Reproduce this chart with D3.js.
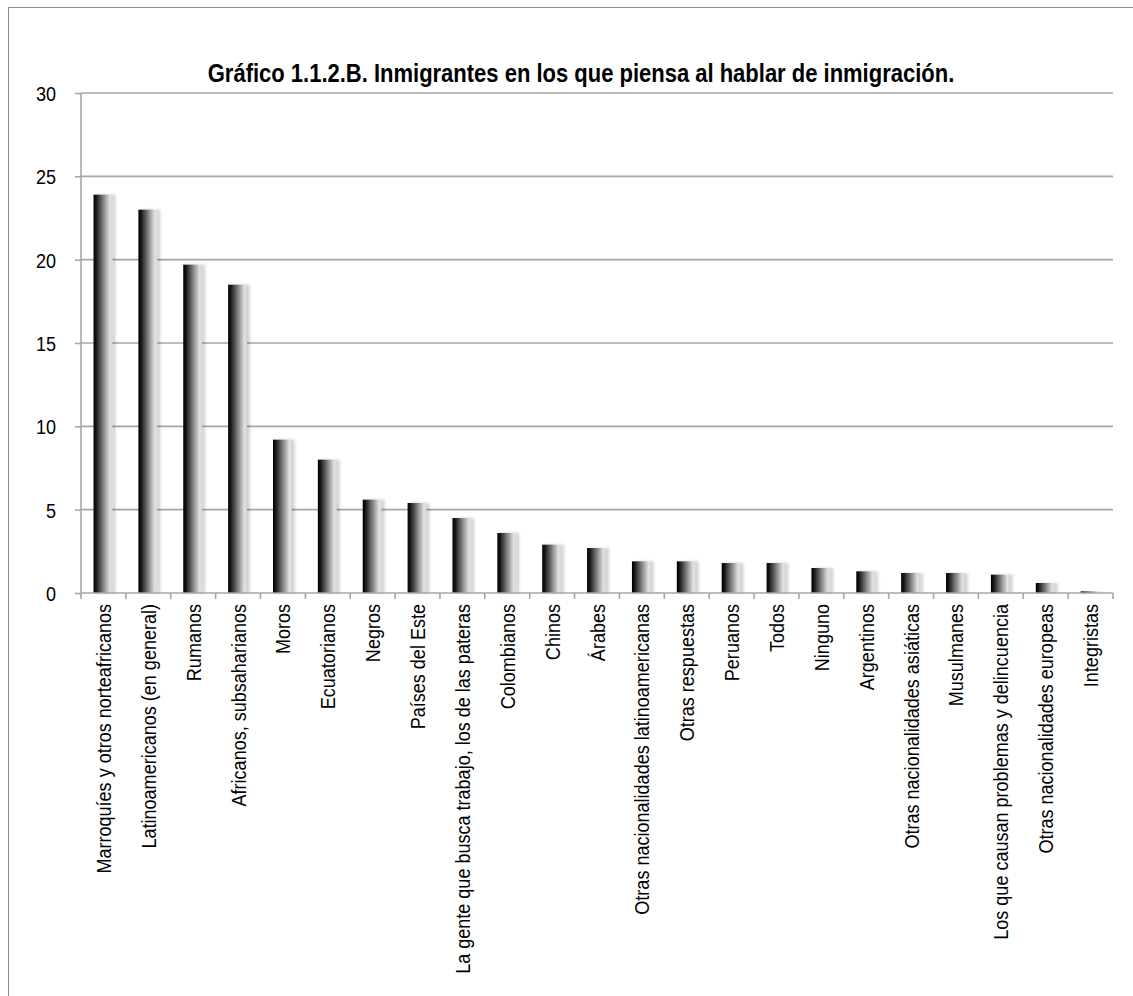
<!DOCTYPE html>
<html>
<head>
<meta charset="utf-8">
<script src="https://cdn.jsdelivr.net/npm/d3@7"></script>
<style>
  html, body { margin: 0; padding: 0; background: #fff; }
  svg text { font-family: "Liberation Sans", Arial, sans-serif; fill: #000; }
</style>
</head>
<body>
<svg id="chart" width="1133" height="996"></svg>
<script>
const categories = [
  "Marroquíes y otros norteafricanos",
  "Latinoamericanos (en general)",
  "Rumanos",
  "Africanos, subsaharianos",
  "Moros",
  "Ecuatorianos",
  "Negros",
  "Países del Este",
  "La gente que busca trabajo, los de las pateras",
  "Colombianos",
  "Chinos",
  "Árabes",
  "Otras nacionalidades latinoamericanas",
  "Otras respuestas",
  "Peruanos",
  "Todos",
  "Ninguno",
  "Argentinos",
  "Otras nacionalidades asiáticas",
  "Musulmanes",
  "Los que causan problemas y delincuencia",
  "Otras nacionalidades europeas",
  "Integristas"
];
const values = [23.9, 23.0, 19.7, 18.5, 9.2, 8.0, 5.6, 5.4, 4.5, 3.6, 2.9, 2.7, 1.9, 1.9, 1.8, 1.8, 1.5, 1.3, 1.2, 1.2, 1.1, 0.6, 0.1];
const yTicks = [0, 5, 10, 15, 20, 25, 30];
const title = "Gráfico 1.1.2.B. Inmigrantes en los que piensa al hablar de inmigración.";

const svg = d3.select("#chart");
const margin = { left: 81, right: 20, top: 93, bottom: 403 };
const W = 1133, H = 996;
const plotW = W - margin.left - margin.right;
const plotH = H - margin.top - margin.bottom;
// condensed lettering: glyphs are squeezed horizontally
const narrow = 0.88;

// Frame of the chart area
svg.append("rect")
  .attr("x", 8.5).attr("y", 7.5)
  .attr("width", W + 20).attr("height", H + 20)
  .attr("fill", "#fff").attr("stroke", "#8c8c8c").attr("stroke-width", 1);

const defs = svg.append("defs");
const grad = defs.append("linearGradient").attr("id", "barGrad")
  .attr("x1", "0%").attr("x2", "100%").attr("y1", "0%").attr("y2", "0%");
grad.append("stop").attr("offset", "0%").attr("stop-color", "#000");
grad.append("stop").attr("offset", "12%").attr("stop-color", "#111");
grad.append("stop").attr("offset", "55%").attr("stop-color", "#8a8a8a");
grad.append("stop").attr("offset", "88%").attr("stop-color", "#e4e4e4");
grad.append("stop").attr("offset", "100%").attr("stop-color", "#d0d0d0");

const shadow = defs.append("filter").attr("id", "barShadow")
  .attr("x", "-20%").attr("y", "-5%").attr("width", "160%").attr("height", "110%");
shadow.append("feGaussianBlur").attr("in", "SourceAlpha").attr("stdDeviation", 1.6).attr("result", "blur");
shadow.append("feOffset").attr("in", "blur").attr("dx", 2.5).attr("dy", 0).attr("result", "off");
shadow.append("feComponentTransfer").attr("in", "off").attr("result", "soft")
  .append("feFuncA").attr("type", "linear").attr("slope", 0.18);
const merge = shadow.append("feMerge");
merge.append("feMergeNode").attr("in", "soft");
merge.append("feMergeNode").attr("in", "SourceGraphic");

const g = svg.append("g").attr("transform", `translate(${margin.left},${margin.top})`);

const x = d3.scaleBand().domain(categories).range([0, plotW]).paddingInner(0).paddingOuter(0);
const y = d3.scaleLinear().domain([0, 30]).range([plotH, 0]);

// Horizontal gridlines
g.append("g").selectAll("line").data(yTicks.filter(d => d > 0)).join("line")
  .attr("x1", 0).attr("x2", plotW)
  .attr("y1", d => y(d)).attr("y2", d => y(d))
  .attr("stroke", "#a6a6a6").attr("stroke-width", 1.6);

// Y axis
const yAxis = g.append("g").call(d3.axisLeft(y).tickValues(yTicks).tickSize(6).tickPadding(19).tickFormat(d3.format("d")));
yAxis.select(".domain").attr("stroke", "#a6a6a6").attr("stroke-width", 1.6).attr("d", `M0,0V${plotH}`);
yAxis.selectAll(".tick line").attr("stroke", "#a6a6a6").attr("stroke-width", 1.6);
yAxis.selectAll(".tick text")
  .attr("x", 0).attr("dy", "0.36em")
  .attr("transform", `translate(-25,0) scale(${narrow},1)`)
  .attr("font-size", 20.5).attr("fill", "#000")
  .style("font-family", '"Liberation Sans", Arial, sans-serif');

// Bars
const barW = x.bandwidth() * 0.42;
g.append("g").selectAll("rect").data(categories).join("rect")
  .attr("x", d => x(d) + x.bandwidth() / 2 - barW / 2 - 0.5)
  .attr("y", (d, i) => y(values[i]))
  .attr("width", barW)
  .attr("height", (d, i) => plotH - y(values[i]))
  .attr("fill", "url(#barGrad)")
  .attr("filter", "url(#barShadow)");

// X axis with ticks at category boundaries
const xAxisG = g.append("g").attr("transform", `translate(0,${plotH})`);
xAxisG.append("line").attr("x1", 0).attr("x2", plotW).attr("y1", 0).attr("y2", 0)
  .attr("stroke", "#a6a6a6").attr("stroke-width", 1.6);
const boundaries = categories.map(d => x(d)).concat([plotW]);
xAxisG.selectAll("line.tk").data(boundaries).join("line").attr("class", "tk")
  .attr("x1", d => d).attr("x2", d => d).attr("y1", 0).attr("y2", 6)
  .attr("stroke", "#a6a6a6").attr("stroke-width", 1.6);

// Category labels, rotated
xAxisG.selectAll("text.lbl").data(categories).join("text").attr("class", "lbl")
  .attr("transform", d => `translate(${x(d) + x.bandwidth() / 2 + 7.5},11) rotate(-90) scale(${narrow},1)`)
  .attr("text-anchor", "end")
  .attr("font-size", 20.5)
  .text(d => d);

// Title
svg.append("text")
  .attr("transform", `translate(581,82) scale(${narrow},1)`)
  .attr("text-anchor", "middle")
  .attr("font-size", 25)
  .attr("font-weight", "bold")
  .text(title);
</script>
</body>
</html>
